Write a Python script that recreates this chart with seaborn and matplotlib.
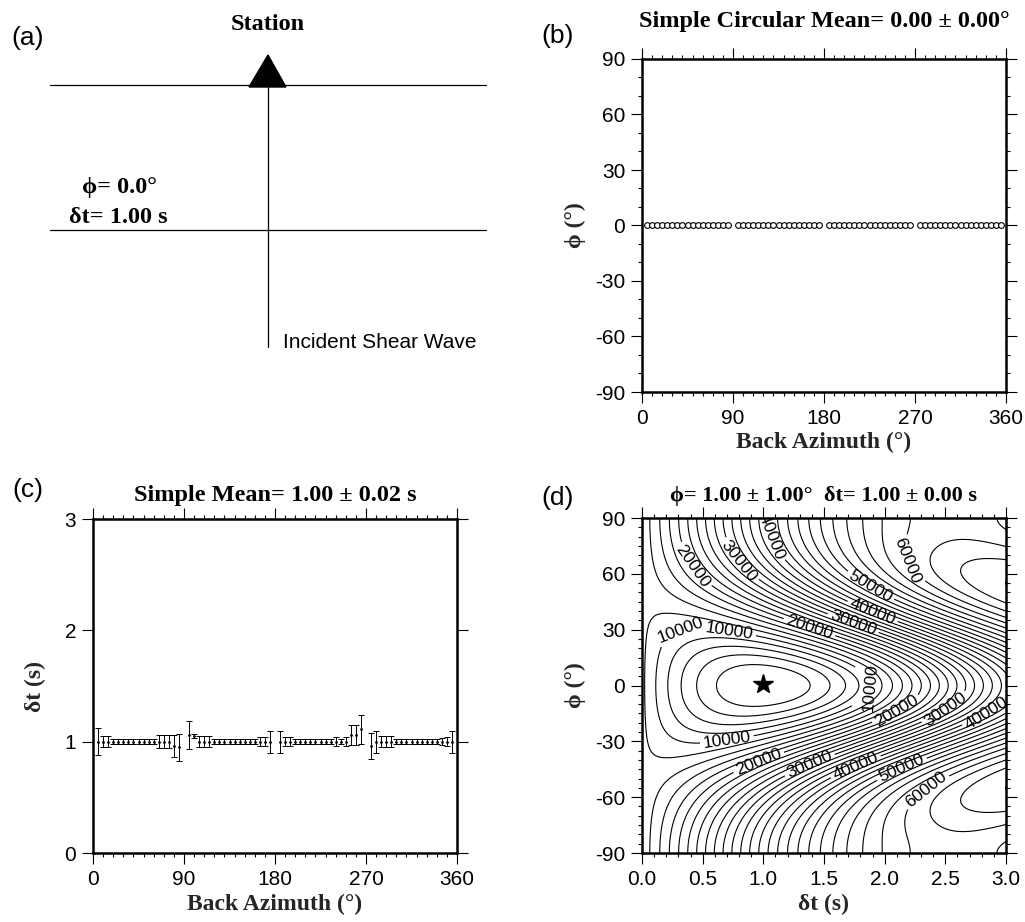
import numpy as np
import pandas as pd
import matplotlib
matplotlib.use("Agg")
import matplotlib.pyplot as plt
from matplotlib.ticker import MultipleLocator, FormatStrFormatter
from matplotlib.patches import Polygon
import seaborn as sns

sns.set_style("ticks")
plt.rcParams.update({
    "font.family": ["Liberation Sans", "DejaVu Sans"],
    "axes.edgecolor": "black",
    "xtick.color": "black",
    "ytick.color": "black",
    "text.color": "black",
    "axes.linewidth": 1.8,
    "axes.unicode_minus": False,
})
SERIF = ["Liberation Serif", "DejaVu Serif"]
PHI = "\u03d5"

# ---------------------------------------------------------------------------
# Individual splitting measurements (back azimuth in degrees)
baz_q1 = [5, 10, 15, 20, 25, 30, 35, 40, 45, 50, 55, 60, 65, 70, 75, 80, 85]
baz_q2 = [95, 100, 105, 110, 115, 120, 125, 130, 135, 140, 145, 150, 155, 160, 165, 170, 175]
baz_q3 = [185, 190, 195, 200, 205, 210, 215, 220, 225, 230, 235, 240, 245, 250, 255, 260, 265]
baz_q4 = [275, 280, 285, 290, 295, 300, 305, 310, 315, 320, 325, 330, 335, 340, 345, 350, 355]

# fast direction (deg) and its uncertainty
phi_q1 = [0, 0, 0, 0, 0, 0, 0, 0, 0, 0, 0, 0, 0, 0, 0, 0, 0]
phi_q2 = [0, 0, 0, 0, 0, 0, 0, 0, 0, 0, 0, 0, 0, 0, 0, 0, 0]
phi_q3 = [0, 0, 0, 0, 0, 0, 0, 0, 0, 0, 0, 0, 0, 0, 0, 0, 0]
phi_q4 = [0, 0, 0, 0, 0, 0, 0, 0, 0, 0, 0, 0, 0, 0, 0, 0, 0]
phi_err_q1 = [0.4, 0.4, 0.4, 0.4, 0.4, 0.4, 0.4, 0.4, 0.4, 0.4, 0.4, 0.4, 0.4, 0.4, 0.4, 0.4, 0.4]
phi_err_q2 = [0.4, 0.4, 0.4, 0.4, 0.4, 0.4, 0.4, 0.4, 0.4, 0.4, 1.0, 1.0, 1.0, 1.0, 1.0, 1.0, 1.0]
phi_err_q3 = [0.4, 0.4, 0.4, 0.4, 0.4, 0.4, 0.4, 0.4, 0.4, 0.4, 0.4, 0.4, 0.4, 0.4, 0.4, 0.4, 0.4]
phi_err_q4 = [0.4, 0.4, 0.4, 0.4, 0.4, 0.4, 0.4, 0.4, 0.4, 0.4, 1.0, 1.0, 1.0, 1.0, 1.0, 1.0, 1.0]

# delay time (s) and its uncertainty
dt_q1 = [1.00, 1.00, 1.00, 1.00, 1.00, 1.00, 1.00, 1.00, 1.00, 1.00, 1.00, 1.00, 1.00, 1.00, 1.00, 0.96, 0.95]
dt_q2 = [1.06, 1.05, 1.00, 1.00, 1.00, 1.00, 1.00, 1.00, 1.00, 1.00, 1.00, 1.00, 1.00, 1.00, 1.00, 1.00, 1.00]
dt_q3 = [1.00, 1.00, 1.00, 1.00, 1.00, 1.00, 1.00, 1.00, 1.00, 1.00, 1.00, 1.00, 1.00, 1.00, 1.06, 1.06, 1.11]
dt_q4 = [0.96, 1.00, 1.00, 1.00, 1.00, 1.00, 1.00, 1.00, 1.00, 1.00, 1.00, 1.00, 1.00, 1.00, 1.00, 1.00, 1.00]
dt_err_q1 = [0.12, 0.05, 0.05, 0.02, 0.02, 0.02, 0.02, 0.02, 0.02, 0.02, 0.02, 0.02, 0.06, 0.06, 0.06, 0.10, 0.12]
dt_err_q2 = [0.13, 0.02, 0.05, 0.05, 0.05, 0.02, 0.02, 0.02, 0.02, 0.02, 0.02, 0.02, 0.02, 0.02, 0.04, 0.04, 0.10]
dt_err_q3 = [0.10, 0.04, 0.04, 0.02, 0.02, 0.02, 0.02, 0.02, 0.02, 0.02, 0.02, 0.04, 0.02, 0.04, 0.09, 0.09, 0.13]
dt_err_q4 = [0.12, 0.10, 0.05, 0.05, 0.05, 0.02, 0.02, 0.02, 0.02, 0.02, 0.02, 0.02, 0.02, 0.02, 0.03, 0.04, 0.10]

# Layer model and stacked result
model_phi = 0.0          # deg
model_dt = 1.00          # s
best_phi, best_phi_err = 1.00, 1.00
best_dt, best_dt_err = 1.00, 0.00
mean_phi, mean_phi_err = 0.00, 0.00
mean_dt, mean_dt_err = 1.00, 0.02

# Source wavelet used for the stacked transverse-energy grid
wavelet_period = 8.0     # s
wavelet_width = 2.5      # s
energy_at_zero_delay = 12500.0

contour_levels = list(range(2000, 70001, 2000))
label_levels = [10000, 20000, 30000, 40000, 50000, 60000]
# (level, approximate delay, approximate fast direction) of each contour label
label_hints = [(10000, 0.33, 23), (10000, 0.73, 25), (10000, 1.84, -1), (10000, 0.71, -25),
               (20000, 0.31, 64), (20000, 1.39, 28), (20000, 2.10, -13), (20000, 0.96, -37),
               (30000, 0.70, 67), (30000, 1.74, 28), (30000, 2.51, -13), (30000, 1.39, -37),
               (40000, 1.06, 80), (40000, 1.90, 36), (40000, 2.84, -15), (40000, 1.76, -39),
               (50000, 1.88, 48), (50000, 2.15, -37), (60000, 2.35, 67), (60000, 2.07, -56)]

baz = baz_q1 + baz_q2 + baz_q3 + baz_q4
meas = pd.DataFrame({
    "baz": baz,
    "phi": phi_q1 + phi_q2 + phi_q3 + phi_q4,
    "phi_err": phi_err_q1 + phi_err_q2 + phi_err_q3 + phi_err_q4,
    "dt": dt_q1 + dt_q2 + dt_q3 + dt_q4,
    "dt_err": dt_err_q1 + dt_err_q2 + dt_err_q3 + dt_err_q4,
})

# ---------------------------------------------------------------------------
# Stacked transverse energy after correcting with trial (phi, dt)
phi_axis = np.linspace(-90, 90, 361)
dt_axis = np.linspace(0, 3, 151)
P, D = np.meshgrid(np.radians(phi_axis), dt_axis, indexing="ij")
f0 = np.radians(model_phi)


def autocorr(tau):
    return np.exp(-tau**2 / (4 * wavelet_width**2)) * np.cos(2 * np.pi * tau / wavelet_period)


ff, fs = np.cos(P - f0), np.sin(P - f0)
taus = [D / 2 - model_dt / 2, D / 2 + model_dt / 2,
        -D / 2 - model_dt / 2, -D / 2 + model_dt / 2]
energy = np.zeros_like(P)
for b_deg in baz:
    b = np.radians(b_deg)
    af, as_ = np.cos(b - f0), np.sin(b - f0)
    tf, ts = -np.sin(b - P), np.cos(b - P)
    w = [tf * ff * af, tf * fs * as_, -ts * fs * af, ts * ff * as_]
    for j in range(4):
        for k in range(4):
            energy += w[j] * w[k] * autocorr(taus[j] - taus[k])
energy *= energy_at_zero_delay / energy[:, 0].mean()


def crossings(values, axis, level):
    r = values - level
    idx = np.where(np.sign(r[:-1]) != np.sign(r[1:]))[0]
    return [axis[k] - r[k] * (axis[k + 1] - axis[k]) / (r[k + 1] - r[k]) for k in idx]


def label_point(level, dt_hint, phi_hint):
    """Point on the given contour closest to the hint (searching along a row and a column)."""
    cands = []
    i = np.argmin(np.abs(phi_axis - phi_hint))
    cands += [(x, phi_axis[i]) for x in crossings(energy[i], dt_axis, level)]
    j = np.argmin(np.abs(dt_axis - dt_hint))
    cands += [(dt_axis[j], y) for y in crossings(energy[:, j], phi_axis, level)]
    return min(cands, key=lambda c: ((c[0] - dt_hint) / 3) ** 2 + ((c[1] - phi_hint) / 180) ** 2)


label_spots = [label_point(*h) for h in label_hints]

# ---------------------------------------------------------------------------
W, H = 1025, 922
fig = plt.figure(figsize=(W / 100, H / 100), dpi=100)

# Panel (a): sketch of the layer, drawn in pixel coordinates
ov = fig.add_axes([0, 0, 1, 1])
ov.set_xlim(0, W)
ov.set_ylim(H, 0)
ov.axis("off")
ov.plot([50, 486], [85, 85], color="black", lw=0.9)
ov.plot([50, 486], [230, 230], color="black", lw=0.9)
ov.plot([268, 268], [85, 347], color="black", lw=0.9)
ov.add_patch(Polygon([[249, 87], [286, 87], [268, 55]], closed=True, color="black"))
ov.text(268, 25, "Station", ha="center", va="center", fontsize=17.5,
        fontweight="bold", family=SERIF)
ov.text(119, 188, f"{PHI}= {model_phi:.1f}\u00b0", ha="center", va="center",
        fontsize=17.5, fontweight="bold", family=SERIF)
ov.text(118, 217, f"\u03b4t= {model_dt:.2f} s", ha="center", va="center",
        fontsize=17.5, fontweight="bold", family=SERIF)
ov.text(283, 342, "Incident Shear Wave", ha="left", va="center", fontsize=15)
for lab, x, y in [("(a)", 28, 38), ("(b)", 558, 36), ("(c)", 28, 490), ("(d)", 558, 498)]:
    ov.text(x, y, lab, ha="center", va="center", fontsize=19)


def frame(ax):
    ax.tick_params(which="both", direction="out", top=True, right=True,
                   labeltop=False, labelright=False, width=0.8)
    ax.tick_params(which="major", length=8, pad=4, labelsize=15)
    ax.tick_params(which="minor", length=3)
    for s in ax.spines.values():
        s.set_linewidth(1.8)
        s.set_visible(True)


def px_axes(x0, y0, x1, y1):
    return fig.add_axes([x0 / W, 1 - y1 / H, (x1 - x0) / W, (y1 - y0) / H])


# Panel (b): fast direction against back azimuth
axb = px_axes(642, 59, 1006, 392)
axb.errorbar(meas["baz"], meas["phi"], yerr=meas["phi_err"], fmt="none",
             ecolor="black", elinewidth=0.6, capsize=1.2, capthick=0.6)
sns.scatterplot(data=meas, x="baz", y="phi", ax=axb, marker="o", s=17,
                facecolor="white", edgecolor="black", linewidth=0.8, legend=False, zorder=3)
axb.set_xlim(0, 360)
axb.set_ylim(-90, 90)
axb.xaxis.set_major_locator(MultipleLocator(90))
axb.xaxis.set_minor_locator(MultipleLocator(10))
axb.yaxis.set_major_locator(MultipleLocator(30))
axb.yaxis.set_minor_locator(MultipleLocator(10))
frame(axb)
axb.set_title(f"Simple Circular Mean= {mean_phi:.2f} \u00b1 {mean_phi_err:.2f}\u00b0",
              fontsize=17.5, fontweight="bold", family=SERIF, pad=23)
axb.set_xlabel("Back Azimuth (\u00b0)", fontsize=17, fontweight="bold", family=SERIF)
axb.set_ylabel(f"{PHI} (\u00b0)", fontsize=17, fontweight="bold", family=SERIF)

# Panel (c): delay time against back azimuth
axc = px_axes(93, 519, 457, 853)
axc.errorbar(meas["baz"], meas["dt"], yerr=meas["dt_err"], fmt="none",
             ecolor="black", elinewidth=0.7, capsize=2.2, capthick=0.7)
sns.scatterplot(data=meas, x="baz", y="dt", ax=axc, marker="o", s=4,
                color="black", edgecolor="black", linewidth=0, legend=False, zorder=3)
axc.set_xlim(0, 360)
axc.set_ylim(0, 3)
axc.xaxis.set_major_locator(MultipleLocator(90))
axc.xaxis.set_minor_locator(MultipleLocator(10))
axc.yaxis.set_major_locator(MultipleLocator(1))
frame(axc)
axc.set_title(f"Simple Mean= {mean_dt:.2f} \u00b1 {mean_dt_err:.2f} s",
              fontsize=17.5, fontweight="bold", family=SERIF, pad=13)
axc.set_xlabel("Back Azimuth (\u00b0)", fontsize=17, fontweight="bold", family=SERIF)
axc.set_ylabel("\u03b4t (s)", fontsize=17, fontweight="bold", family=SERIF)

# Panel (d): stacked energy grid; labelled levels drawn as their own set
axd = px_axes(642, 518, 1006, 853)
plain_levels = [lv for lv in contour_levels if lv not in label_levels]
axd.contour(dt_axis, phi_axis, energy, levels=plain_levels,
            colors="black", linewidths=0.8)
cs_lab = axd.contour(dt_axis, phi_axis, energy, levels=label_levels,
                     colors="black", linewidths=0.8)
axd.clabel(cs_lab, fmt="%d", fontsize=12.5, inline=True,
           inline_spacing=3, manual=label_spots)
axd.plot([best_dt], [best_phi], marker="*", ms=15, color="black", zorder=4)
axd.set_xlim(0, 3)
axd.set_ylim(-90, 90)
axd.xaxis.set_major_locator(MultipleLocator(0.5))
axd.xaxis.set_minor_locator(MultipleLocator(0.1))
axd.xaxis.set_major_formatter(FormatStrFormatter("%.1f"))
axd.yaxis.set_major_locator(MultipleLocator(30))
axd.yaxis.set_minor_locator(MultipleLocator(5))
frame(axd)
axd.set_title(f"{PHI}= {best_phi:.2f} \u00b1 {best_phi_err:.2f}\u00b0  "
              f"\u03b4t= {best_dt:.2f} \u00b1 {best_dt_err:.2f} s",
              fontsize=16, fontweight="bold", family=SERIF, pad=12)
axd.set_xlabel("\u03b4t (s)", fontsize=17, fontweight="bold", family=SERIF)
axd.set_ylabel(f"{PHI} (\u00b0)", fontsize=17, fontweight="bold", family=SERIF)

# label placement shared by all three graphs
for ax, yl_x in [(axb, -0.184), (axc, -0.159), (axd, -0.184)]:
    ax.xaxis.set_label_coords(0.5, -0.153)
    ax.xaxis.label.set_va("center")
    ax.yaxis.set_label_coords(yl_x, 0.5)
    ax.yaxis.label.set_va("center")

fig.savefig("out.png", dpi=100)
